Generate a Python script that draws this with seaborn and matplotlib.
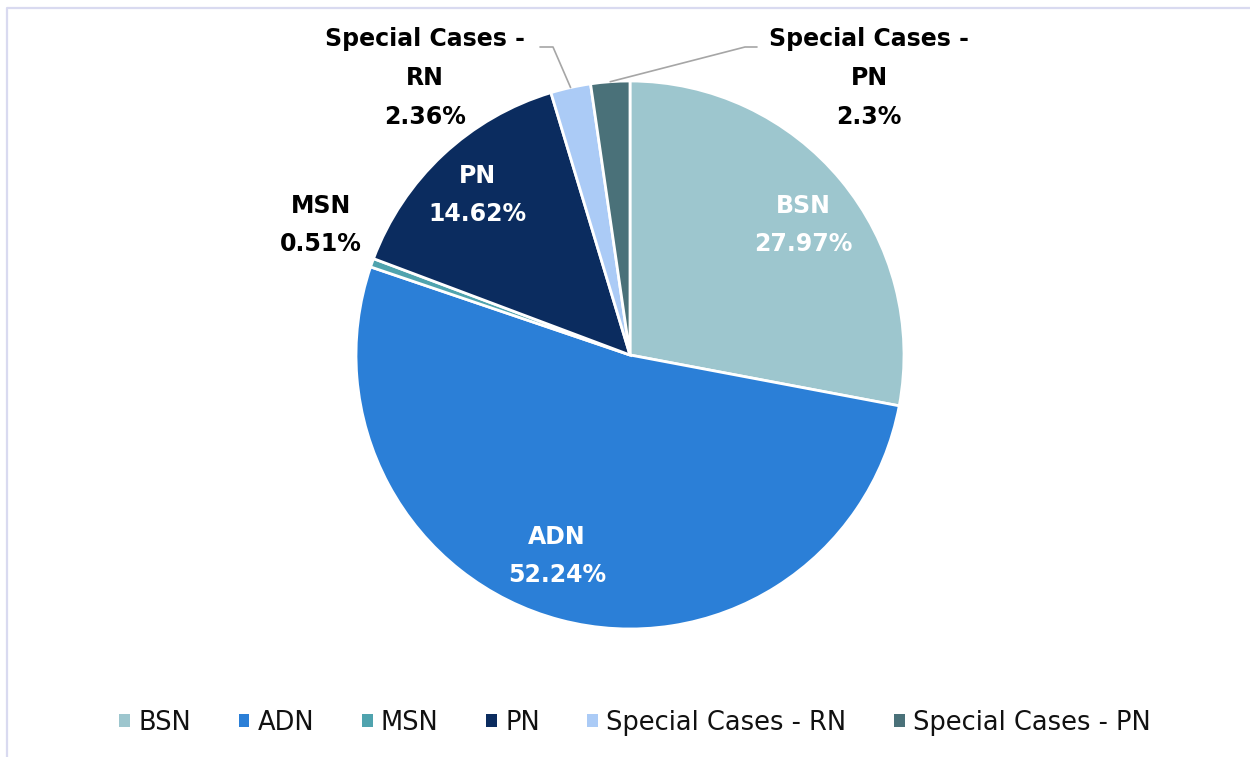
import numpy as np
import matplotlib.pyplot as plt
import seaborn as sns
from matplotlib.lines import Line2D
from matplotlib.patches import Patch

categories = ['BSN', 'ADN', 'MSN', 'PN', 'Special Cases - RN', 'Special Cases - PN']
shares = [27.97, 52.24, 0.51, 14.62, 2.36, 2.3]
share_labels = ['27.97%', '52.24%', '0.51%', '14.62%', '2.36%', '2.3%']
slice_colors = ['#9DC6CE', '#2B7FD7', '#4FA3AE', '#0B2C5F', '#ABCBF6', '#4A7179']

sns.set_theme(style='white')
plt.rcParams['font.family'] = ['DejaVu Sans']

# work in pixel units so the layout matches the reference
W, H = 1250, 757
fig = plt.figure(figsize=(12.5, 7.57), dpi=100)
ax = fig.add_axes([0, 0, 1, 1])
cx, cy, R = 630, H - 355, 274

wedges, _ = ax.pie(shares, colors=slice_colors, startangle=90, counterclock=False,
                   center=(cx, cy), radius=R,
                   wedgeprops=dict(edgecolor='white', linewidth=2))
ax.set_xlim(0, W)
ax.set_ylim(0, H)
ax.axis('off')

def mid_angle(w):
    return np.deg2rad((w.theta1 + w.theta2) / 2)

lab_kw = dict(ha='center', va='center', fontsize=17, fontweight='bold')

# label centres (pixels from top-left), placed like the excel data labels
inside_pos = {0: (803, 225), 1: (557, 556), 2: (321, 225), 3: (477, 195)}
for i, (x, y) in inside_pos.items():
    color = 'black' if i == 2 else 'white'
    ax.text(x, H - y, f'{categories[i]}\n{share_labels[i]}', color=color,
            linespacing=1.75, **lab_kw)

# the two small slices get labels above the pie with leader lines
outside = {4: ((425, H - 78), (553, H - 47), (540, H - 47)),
           5: ((869, H - 78), (745, H - 47), (757, H - 47))}
for i, (txt, elbow, end) in outside.items():
    a = mid_angle(wedges[i])
    ex, ey = cx + R * np.cos(a), cy + R * np.sin(a)
    ax.plot([ex, elbow[0], end[0]], [ey, elbow[1], end[1]], color='#A6A6A6', lw=1.2)
    name = categories[i].rsplit(' ', 1)
    ax.text(txt[0], txt[1], f'{name[0]}\n{name[1]}\n{share_labels[i]}', color='black',
            linespacing=1.8, **lab_kw)

handles = [Patch(facecolor=c, edgecolor='none') for c in slice_colors]
fig.legend(handles, categories, loc='center', bbox_to_anchor=(635 / W, 1 - 723 / H),
           ncol=6, frameon=False, fontsize=18.5, handlelength=0.42, handleheight=0.42,
           handletextpad=0.32, columnspacing=1.85, labelcolor='#111111')

# thin frame along the top and left edges
fig.add_artist(Line2D([7 / W, 7 / W, 1], [0, 1 - 7.5 / H, 1 - 7.5 / H],
                      transform=fig.transFigure, color='#D9DAF0', lw=1.6))

fig.savefig('out.png', dpi=100)
